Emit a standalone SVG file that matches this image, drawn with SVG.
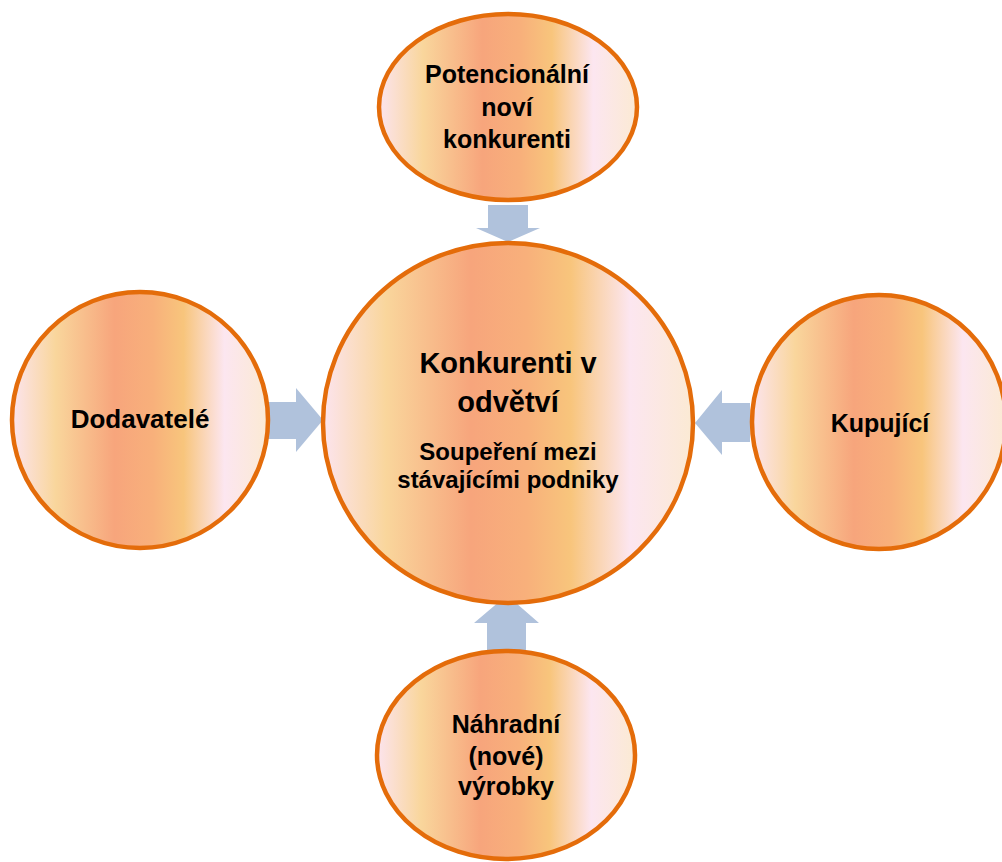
<svg xmlns="http://www.w3.org/2000/svg" width="1002" height="862" viewBox="0 0 1002 862">
  <style>
    .node { stroke: #E46C0A; stroke-width: 4.5; fill: url(#fire); }
    .lbl { font-family: "Liberation Sans", Arial, sans-serif; font-weight: bold; fill: #000; text-anchor: middle; }
    .arrow { fill: #B0C2DC; stroke: none; }
  </style>
  <defs>
    <linearGradient id="fire" x1="0" y1="0" x2="1" y2="0">
      <stop offset="0" stop-color="#FCE4EE"/>
      <stop offset="0.17" stop-color="#F9D69C"/>
      <stop offset="0.40" stop-color="#F7A57C"/>
      <stop offset="0.55" stop-color="#F8B07B"/>
      <stop offset="0.67" stop-color="#F8C57C"/>
      <stop offset="0.83" stop-color="#FCE6F0"/>
      <stop offset="1" stop-color="#FBEAD3"/>
    </linearGradient>
  </defs>
  <rect width="1002" height="862" fill="#FFFFFF"/>

  <g id="connectors">
    <polygon class="arrow" points="488,205 528,205 528,228 540,228 508,242 476,228 488,228"/>
    <polygon class="arrow" points="268,402 296,402 296,388 323,420 296,452 296,439 268,439"/>
    <polygon class="arrow" points="750,403 722,403 722,390 695,423 722,455 722,442 750,442"/>
    <polygon class="arrow" points="487,652 487,623 474,623 507,595 539,623 526,623 526,652"/>
  </g>

  <g id="node-top">
    <ellipse class="node" cx="508" cy="107" rx="129" ry="93"/>
    <text class="lbl" x="507" y="83" font-size="25">Potencionální</text>
    <text class="lbl" x="507" y="116" font-size="25">noví</text>
    <text class="lbl" x="507" y="148" font-size="25">konkurenti</text>
  </g>

  <g id="node-center">
    <ellipse class="node" cx="508" cy="423" rx="185" ry="180"/>
    <text class="lbl" x="508" y="373" font-size="29">Konkurenti v</text>
    <text class="lbl" x="508" y="412" font-size="29">odvětví</text>
    <text class="lbl" x="508" y="460" font-size="24">Soupeření mezi</text>
    <text class="lbl" x="508" y="488" font-size="24">stávajícími podniky</text>
  </g>

  <g id="node-left">
    <circle class="node" cx="140" cy="420" r="128"/>
    <text class="lbl" x="140" y="428" font-size="26">Dodavatelé</text>
  </g>

  <g id="node-right">
    <circle class="node" cx="879" cy="422" r="127"/>
    <text class="lbl" x="880" y="432" font-size="25">Kupující</text>
  </g>

  <g id="node-bottom">
    <ellipse class="node" cx="506" cy="755" rx="129" ry="104"/>
    <text class="lbl" x="506" y="733" font-size="25">Náhradní</text>
    <text class="lbl" x="506" y="765" font-size="25">(nové)</text>
    <text class="lbl" x="506" y="795" font-size="25">výrobky</text>
  </g>
</svg>
